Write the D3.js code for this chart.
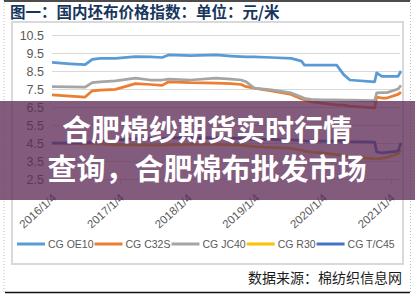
<!DOCTYPE html>
<html>
<head>
<meta charset="utf-8">
<script src="https://cdn.jsdelivr.net/npm/d3@7"></script>
<style>
body { margin: 0; background: #fff; }
svg { display: block; }
</style>
</head>
<body>
<script>

// sample dates
var dates = ["2016-01-04", "2016-04-10", "2016-07-01", "2016-08-08", "2016-09-20", "2016-12-11",
    "2017-03-29", "2017-06-18", "2017-08-20", "2017-09-24", "2018-01-22", "2018-06-06",
    "2018-08-27", "2018-10-20", "2018-11-17", "2018-12-30", "2019-04-01", "2019-07-18",
    "2019-09-11", "2019-09-27", "2019-11-03", "2019-12-28", "2020-03-19", "2020-04-26",
    "2020-05-29", "2020-10-10", "2020-10-21", "2020-11-18", "2020-12-15", "2021-02-13",
    "2021-03-01"];

var oe10 = [8.98, 8.9, 8.85, 9.15, 9.2, 9.2, 9.3, 9.28, 9.25, 9.39, 9.35, 9.39, 9.33, 9.3, 9.28,
    9.28, 9.25, 9.2, 9.05, 8.83, 8.83, 8.83, 8.83, 8.3, 8.0, 7.9, 8.4, 8.2, 8.2, 8.2, 8.5];
var c32s = [7.17, 7.1, 7.05, 7.4, 7.44, 7.48, 7.8, 7.75, 7.7, 7.9, 7.85, 7.83, 7.8, 7.75, 7.63,
    7.55, 7.4, 7.2, 6.95, 6.9, 6.8, 6.72, 6.62, 6.6, 6.55, 6.45, 7.05, 7.0, 7.0, 7.2, 7.33];
var jc40 = [7.63, 7.62, 7.6, 7.85, 7.9, 7.95, 8.1, 8.0, 8.0, 8.05, 8.0, 8.1, 8.05, 8.0, 7.9,
    7.55, 7.45, 7.28, 7.05, 6.98, 6.92, 6.9, 6.9, 6.88, 6.88, 6.85, 7.28, 7.3, 7.3, 7.5, 7.7];
var r30 = [4.5, 4.48, 4.45, 4.45, 4.45, 4.4, 4.4, 4.38, 4.38, 4.4, 4.42, 4.42, 4.4, 4.38, 4.35,
    4.3, 4.25, 4.2, 4.1, 4.05, 4.0, 3.95, 3.85, 3.8, 3.75, 3.62, 3.62, 3.65, 3.7, 3.9, 4.1];
var tc45 = [4.5, 4.5, 4.5, 4.55, 4.6, 4.65, 4.75, 4.75, 4.75, 4.78, 4.78, 4.8, 4.78, 4.75, 4.72,
    4.7, 4.7, 4.68, 4.65, 4.62, 4.6, 4.6, 4.6, 4.6, 4.58, 4.55, 4.0, 3.95, 3.98, 4.05, 4.5];

var seriesNames = ["CG OE10", "CG C32S", "CG JC40", "CG R30", "CG T/C45"];
var seriesValues = [oe10, c32s, jc40, r30, tc45];
var seriesColors = ["#5b9bd5", "#ed7d31", "#a5a5a5", "#ffc000", "#4472c4"];

var yTicks = [2.5, 3.5, 4.5, 5.5, 6.5, 7.5, 8.5, 9.5, 10.5];
var xTickDates = ["2016-01-04", "2017-01-04", "2018-01-04", "2019-01-04", "2020-01-04", "2021-01-04"];

var title = "图一：国内坯布价格指数：单位：元/米";
var source = "数据来源：棉纺织信息网";
var bannerLines = ["合肥棉纱期货实时行情", "查询，合肥棉布批发市场"];

var width = 415, height = 302;
var plot = {left: 52, right: 400, top: 35, bottom: 179};
var parse = d3.timeParse("%Y-%m-%d"),
    fmt = d3.timeFormat("%Y/%-m/%-d");
var latin = "'Liberation Sans', Arial, sans-serif",
    cjk = "'Noto Sans CJK SC', sans-serif";

var x = d3.scaleTime()
    .domain([parse(dates[0]), parse(dates[dates.length - 1])])
    .range([plot.left, plot.right + 1]);
var y = d3.scaleLinear()
    .domain([2.5, 10.5])
    .range([plot.bottom, plot.top]);

var svg = d3.select("body").append("svg")
    .attr("width", width)
    .attr("height", height);

svg.append("rect").attr("width", width).attr("height", height).attr("fill", "#fff");

// outer dotted frame + black rules
svg.append("line").attr("x1", 4).attr("x2", 4).attr("y1", 0).attr("y2", 292)
    .attr("stroke", "#bbb").attr("stroke-dasharray", "1,2");
svg.append("line").attr("x1", 410.5).attr("x2", 410.5).attr("y1", 0).attr("y2", 292)
    .attr("stroke", "#bbb").attr("stroke-dasharray", "1,2");
svg.append("line").attr("x1", 4).attr("x2", 410).attr("y1", 1).attr("y2", 1)
    .attr("stroke", "#111").attr("stroke-width", 1.5);
svg.append("line").attr("x1", 5).attr("x2", 410).attr("y1", 292.5).attr("y2", 292.5)
    .attr("stroke", "#111").attr("stroke-width", 1.5);

svg.append("text")
    .attr("x", 10).attr("y", 18)
    .style("font-family", cjk).style("font-size", "15.5px").style("font-weight", 700)
    .attr("fill", "#17365d")
    .text(title);

// chart box
svg.append("rect")
    .attr("x", 12).attr("y", 22).attr("width", 391).attr("height", 242)
    .attr("fill", "#fff").attr("stroke", "#d9d9d9").attr("stroke-width", 2);

// grid + y labels
var yAxis = svg.append("g").attr("class", "y axis");
yAxis.selectAll("line")
    .data(yTicks)
    .enter().append("line")
    .attr("x1", plot.left).attr("x2", plot.right)
    .attr("y1", function(d) { return Math.round(y(d)) + 0.5; })
    .attr("y2", function(d) { return Math.round(y(d)) + 0.5; })
    .attr("stroke", "#d9d9d9").attr("stroke-width", 1);
yAxis.selectAll("text")
    .data(yTicks)
    .enter().append("text")
    .attr("x", 44)
    .attr("y", function(d) { return y(d) + 4.5; })
    .attr("text-anchor", "end")
    .style("font-family", latin).style("font-size", "12.5px")
    .attr("fill", "#595959")
    .text(function(d) { return d3.format(".1f")(d); });

// x ticks + rotated labels
var xAxis = svg.append("g").attr("class", "x axis");
xAxis.selectAll("line")
    .data(xTickDates)
    .enter().append("line")
    .attr("x1", function(d) { return Math.round(x(parse(d))) + 0.5; })
    .attr("x2", function(d) { return Math.round(x(parse(d))) + 0.5; })
    .attr("y1", plot.bottom).attr("y2", plot.bottom + 5)
    .attr("stroke", "#d9d9d9");
xAxis.selectAll("text")
    .data(xTickDates)
    .enter().append("text")
    .attr("text-anchor", "end")
    .attr("transform", function(d) {
        return "translate(" + (x(parse(d)) + 5) + "," + (plot.bottom + 20) + ") rotate(-42)";
    })
    .style("font-family", latin).style("font-size", "11.5px")
    .attr("fill", "#595959")
    .text(function(d) { return fmt(parse(d)); });

// series lines
var line = d3.line()
    .x(function(d) { return x(d.date); })
    .y(function(d) { return y(d.value); });

var series = seriesNames.map(function(name, i) {
    return {
        name: name,
        color: seriesColors[i],
        points: dates.map(function(d, j) { return {date: parse(d), value: seriesValues[i][j]}; })
    };
});

svg.append("g").attr("class", "series")
    .selectAll("path")
    .data(series)
    .enter().append("path")
    .attr("d", function(d) { return line(d.points); })
    .attr("fill", "none")
    .attr("stroke", function(d) { return d.color; })
    .attr("stroke-width", 2.75)
    .attr("stroke-linejoin", "round");

// legend, laid out left to right
var legend = svg.append("g").attr("class", "legend");
var lx = 17, ly = 244;
series.forEach(function(s) {
    legend.append("line")
        .attr("x1", lx).attr("x2", lx + 28)
        .attr("y1", ly).attr("y2", ly)
        .attr("stroke", s.color).attr("stroke-width", 3);
    var t = legend.append("text")
        .attr("x", lx + 31).attr("y", ly + 4)
        .style("font-family", latin).style("font-size", "10.5px")
        .attr("fill", "#595959")
        .text(s.name);
    lx = lx + 31 + t.node().getComputedTextLength() + 1;
});

svg.append("text")
    .attr("x", 402).attr("y", 283)
    .attr("text-anchor", "end")
    .style("font-family", cjk).style("font-size", "14px")
    .attr("fill", "#1a1a1a")
    .text(source);

// overlay banner
svg.append("rect")
    .attr("x", 0).attr("y", 101).attr("width", width).attr("height", 99)
    .attr("fill", "rgb(95,45,88)").attr("fill-opacity", 0.78);
svg.selectAll(".banner")
    .data(bannerLines)
    .enter().append("text")
    .attr("class", "banner")
    .attr("x", 207)
    .attr("y", function(d, i) { return 141 + i * 39; })
    .attr("text-anchor", "middle")
    .style("font-family", cjk).style("font-size", "29px").style("font-weight", 700)
    .attr("fill", "#fff")
    .text(function(d) { return d; });

</script>
</body>
</html>
